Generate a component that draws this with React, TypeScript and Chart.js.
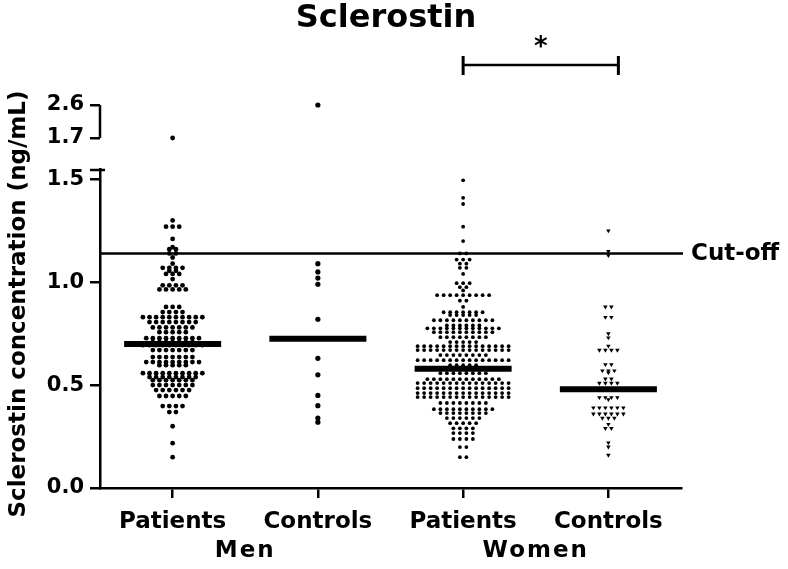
import React, { useEffect, useRef } from "react";
import { Chart, registerables } from "chart.js";

Chart.register(...registerables);

// ---------- data ----------
const categories = ["Patients", "Controls", "Patients", "Controls"];
const groupLabels = ["Men", "Women"];
const lowerTicks = [0, 0.5, 1.0, 1.5];
const upperTicks = [1.7, 2.6];
const cutOff = 1.14;
const medians = [0.7, 0.725, 0.58, 0.48];

// rows of the swarm: [value (ng/mL), number of dots in that row]
const menPatients = [
  [1.7, 1], [1.3, 1], [1.27, 3], [1.21, 1], [1.17, 1], [1.16, 2], [1.14, 2], [1.12, 1],
  [1.09, 1], [1.07, 4], [1.055, 2], [1.04, 3], [1.015, 1], [0.985, 4], [0.965, 5],
  [0.88, 3], [0.855, 4], [0.83, 10], [0.806, 8], [0.78, 7], [0.757, 5], [0.728, 9],
  [0.709, 7], [0.694, 10], [0.67, 7], [0.636, 7], [0.612, 9], [0.597, 5], [0.558, 10],
  [0.539, 8], [0.524, 7], [0.5, 7], [0.476, 6], [0.447, 5], [0.398, 4], [0.369, 2],
  [0.3, 1], [0.218, 1], [0.15, 1],
];
const menControls = [
  [2.6, 1], [1.09, 1], [1.05, 1], [1.02, 1], [0.99, 1], [0.82, 1], [0.63, 1], [0.55, 1],
  [0.45, 1], [0.4, 1], [0.34, 1], [0.32, 1],
];
const womenPatients = [
  [1.495, 1], [1.41, 1], [1.38, 1], [1.27, 1], [1.2, 1], [1.14, 2], [1.11, 3], [1.09, 2],
  [1.07, 2], [1.04, 1], [0.995, 3], [0.976, 2], [0.96, 1], [0.937, 9], [0.91, 2], [0.88, 1],
  [0.854, 7], [0.84, 5], [0.815, 10], [0.79, 6], [0.776, 12], [0.757, 10], [0.733, 8],
  [0.709, 5], [0.689, 15], [0.67, 15], [0.646, 8], [0.621, 15], [0.597, 5], [0.578, 15],
  [0.558, 8], [0.529, 12], [0.51, 15], [0.485, 15], [0.461, 15], [0.442, 15], [0.413, 8],
  [0.383, 10], [0.364, 8], [0.34, 6], [0.315, 5], [0.29, 4], [0.267, 4], [0.238, 4],
  [0.199, 2], [0.15, 2],
];
const womenControls = [
  [1.25, 1], [1.15, 1], [1.13, 1], [0.88, 2], [0.83, 2], [0.75, 1], [0.73, 1], [0.69, 1],
  [0.67, 4], [0.6, 2], [0.57, 3], [0.56, 1], [0.53, 2], [0.51, 4], [0.48, 3], [0.44, 4],
  [0.43, 1], [0.39, 6], [0.36, 6], [0.34, 3], [0.31, 1], [0.29, 2], [0.22, 1], [0.2, 1],
  [0.16, 1],
];

const FONT = "'DejaVu Sans', 'Liberation Sans', Arial, sans-serif";
const BREAK = 1.6;
const X_PX_PER_UNIT = 145.25;

type Row = number[];

function swarm(rows: Row[], center: number, dxPx: number) {
  const pts: { x: number; y: number }[] = [];
  for (const [v, n] of rows) {
    for (let i = 0; i < n; i++) {
      pts.push({ x: center + ((i - (n - 1) / 2) * dxPx) / X_PX_PER_UNIT, y: v });
    }
  }
  return pts;
}

const groups = [
  { rows: menPatients, dx: 6.6, style: "circle", radius: 2.4, rotation: 0 },
  { rows: menControls, dx: 6.6, style: "circle", radius: 2.6, rotation: 0 },
  { rows: womenPatients, dx: 6.5, style: "circle", radius: 1.9, rotation: 0 },
  { rows: womenControls, dx: 6.0, style: "triangle", radius: 2.6, rotation: 180 },
];

function buildDatasets() {
  const ds: any[] = [];
  medians.forEach((m, i) => {
    ds.push({
      type: "scatter",
      showLine: true,
      data: [
        { x: i + 1 - 0.334, y: m },
        { x: i + 1 + 0.334, y: m },
      ],
      borderColor: "#000",
      borderWidth: 6,
      borderCapStyle: "butt",
      pointRadius: 0,
      yAxisID: "y",
      order: 0,
    });
  });
  groups.forEach((g, i) => {
    const pts = swarm(g.rows, i + 1, g.dx);
    const low = pts.filter((p) => p.y <= BREAK);
    const high = pts.filter((p) => p.y > BREAK);
    const base = {
      type: "scatter",
      pointStyle: g.style,
      pointRadius: g.radius,
      pointRotation: g.rotation,
      backgroundColor: "#000",
      borderColor: "#000",
      borderWidth: 0,
      order: 1,
    };
    ds.push({ ...base, data: low, yAxisID: "y" });
    if (high.length) ds.push({ ...base, data: high, yAxisID: "y2" });
  });
  return ds;
}

const decor = {
  id: "decor",
  beforeDatasetsDraw(chart: any) {
    const { ctx, chartArea, scales } = chart;
    const cy = scales.y.getPixelForValue(cutOff);
    ctx.save();
    ctx.strokeStyle = "#000";
    ctx.lineWidth = 2.5;
    ctx.beginPath();
    ctx.moveTo(chartArea.left, cy);
    ctx.lineTo(chartArea.right + 2, cy);
    ctx.stroke();
    ctx.restore();
  },
  afterDraw(chart: any) {
    const { ctx, chartArea, scales } = chart;
    const x = scales.x;
    const y = scales.y;
    const y2 = scales.y2;
    ctx.save();
    ctx.fillStyle = "#000";
    ctx.strokeStyle = "#000";

    // title
    ctx.font = `bold 32px ${FONT}`;
    ctx.textAlign = "center";
    ctx.textBaseline = "middle";
    ctx.fillText("Sclerostin", 386, 19);

    // significance bracket
    const bl = x.getPixelForValue(3);
    const br = x.getPixelForValue(4) + 10;
    const by = 65;
    ctx.lineWidth = 2.5;
    ctx.beginPath();
    ctx.moveTo(bl, by);
    ctx.lineTo(br, by);
    ctx.stroke();
    ctx.lineWidth = 3;
    ctx.beginPath();
    ctx.moveTo(bl, by - 9);
    ctx.lineTo(bl, by + 10);
    ctx.moveTo(br, by - 9);
    ctx.lineTo(br, by + 10);
    ctx.stroke();
    ctx.font = `bold 26px ${FONT}`;
    ctx.fillText("*", (bl + br) / 2, 48);

    // y title
    ctx.save();
    ctx.translate(19, 304);
    ctx.rotate(-Math.PI / 2);
    ctx.font = `bold 23px ${FONT}`;
    ctx.fillText("Sclerostin concentration (ng/mL)", 0, 0);
    ctx.restore();

    // broken axis: cap on lower segment and upper bracket
    const left = chartArea.left;
    ctx.lineWidth = 2.5;
    ctx.beginPath();
    ctx.moveTo(left - 10, y.top + 1);
    ctx.lineTo(left + 5, y.top + 1);
    ctx.stroke();
    ctx.beginPath();
    ctx.moveTo(left, y2.getPixelForValue(upperTicks[1]));
    ctx.lineTo(left, y2.getPixelForValue(upperTicks[0]));
    ctx.stroke();

    // cut-off label
    ctx.font = `bold 23px ${FONT}`;
    ctx.textAlign = "left";
    ctx.fillText("Cut-off", chartArea.right + 10, y.getPixelForValue(cutOff) + 1);

    // group labels
    ctx.textAlign = "center";
    (ctx as any).letterSpacing = "2px";
    ctx.fillText(groupLabels[0], (x.getPixelForValue(1) + x.getPixelForValue(2)) / 2, 551);
    ctx.fillText(groupLabels[1], (x.getPixelForValue(3) + x.getPixelForValue(4)) / 2, 551);
    ctx.restore();
  },
};

export default function App() {
  const ref = useRef<HTMLCanvasElement | null>(null);
  useEffect(() => {
    if (!ref.current) return;
    const tickFont = { family: FONT, size: 21, weight: "bold" as const };
    const chart = new Chart(ref.current, {
      type: "scatter",
      data: { datasets: buildDatasets() },
      options: {
        animation: false,
        responsive: true,
        maintainAspectRatio: false,
        devicePixelRatio: 1,
        layout: { padding: { top: 95, right: 107, left: 0, bottom: 0 } },
        plugins: { legend: { display: false }, tooltip: { enabled: false }, title: { display: false } },
        scales: {
          x: {
            type: "linear",
            min: 0.5,
            max: 4.5,
            afterBuildTicks: (s: any) => {
              s.ticks = categories.map((_, i) => ({ value: i + 1 }));
            },
            afterFit: (s: any) => {
              s.height = 81;
            },
            ticks: {
              autoSkip: false,
              maxRotation: 0,
              color: "#000",
              padding: 10,
              font: { family: FONT, size: 23, weight: "bold" },
              callback: (_v: any, i: number) => categories[i],
            },
            grid: { drawOnChartArea: false, drawTicks: true, tickLength: 10, color: "#000", lineWidth: 2.5 },
            border: { display: true, color: "#000", width: 2.5 },
          },
          y2: {
            type: "linear",
            position: "left",
            stack: "yy",
            stackWeight: 74,
            weight: 1,
            min: 0.855,
            max: 2.873,
            afterBuildTicks: (s: any) => {
              s.ticks = upperTicks.map((v) => ({ value: v }));
            },
            afterFit: (s: any) => {
              s.width = 100;
            },
            ticks: { color: "#000", padding: 6, font: tickFont, callback: (v: any) => Number(v).toFixed(1) },
            grid: { drawOnChartArea: false, drawTicks: true, tickLength: 10, color: "#000", lineWidth: 2.5 },
            border: { display: false },
          },
          y: {
            type: "linear",
            position: "left",
            stack: "yy",
            stackWeight: 319,
            weight: 0,
            min: 0,
            max: 1.55,
            afterBuildTicks: (s: any) => {
              s.ticks = lowerTicks.map((v) => ({ value: v }));
            },
            afterFit: (s: any) => {
              s.width = 100;
            },
            ticks: { color: "#000", padding: 6, font: tickFont, callback: (v: any) => Number(v).toFixed(1) },
            grid: { drawOnChartArea: false, drawTicks: true, tickLength: 10, color: "#000", lineWidth: 2.5 },
            border: { display: true, color: "#000", width: 2.5 },
          },
        },
      } as any,
      plugins: [decor],
    });
    return () => chart.destroy();
  }, []);
  return (
    <div style={{ position: "absolute", left: 0, top: 0, width: 788, height: 569, background: "#fff" }}>
      <canvas ref={ref} style={{ display: "block" }} />
    </div>
  );
}
